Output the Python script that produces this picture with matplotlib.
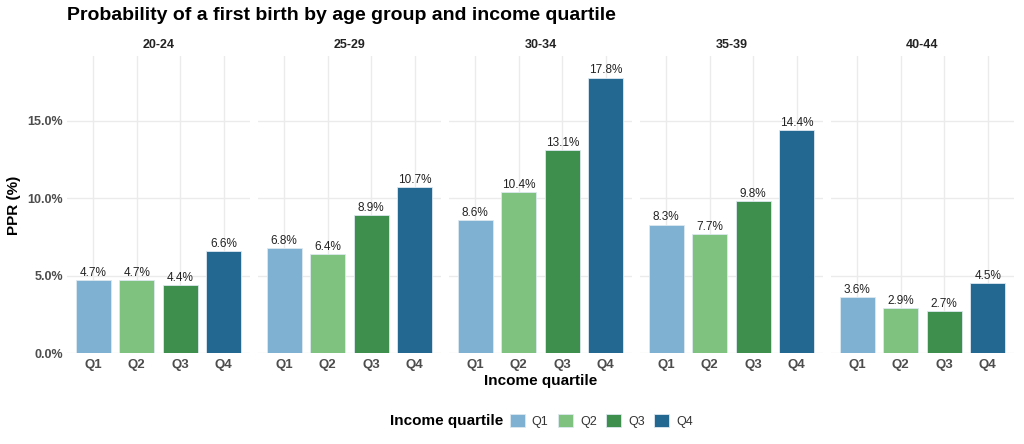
import matplotlib
matplotlib.use("Agg")
from matplotlib import pyplot as plt
from matplotlib.patches import Patch

plt.rcParams["font.family"] = ["Liberation Sans", "DejaVu Sans"]

age_groups = ["20-24", "25-29", "30-34", "35-39", "40-44"]
quartiles = ["Q1", "Q2", "Q3", "Q4"]
ppr = {
    "20-24": [4.7, 4.7, 4.4, 6.6],
    "25-29": [6.8, 6.4, 8.9, 10.7],
    "30-34": [8.6, 10.4, 13.1, 17.8],
    "35-39": [8.3, 7.7, 9.8, 14.4],
    "40-44": [3.6, 2.9, 2.7, 4.5],
}
colors = ["#7fb1d3", "#7fc17f", "#3e8f4e", "#226891"]
yticks = [0, 5, 10, 15]

W, H = 1024, 444
fig = plt.figure(figsize=(W / 100, H / 100), dpi=100)

left, pw, gap = 67, 183, 8
top, bottom = 56, 353
grid_c = "#ebebeb"
tick_c = "#4d4d4d"

for i, age in enumerate(age_groups):
    x0 = left + i * (pw + gap)
    ax = fig.add_axes([x0 / W, (H - bottom) / H, pw / W, (bottom - top) / H])
    vals = ppr[age]
    xs = range(len(quartiles))
    ax.bar(xs, vals, width=0.8, color=colors, edgecolor="#dde8f0", linewidth=0.6, zorder=2)
    for x, v in zip(xs, vals):
        ax.text(x, v + 0.08, f"{v:.1f}%", ha="center", va="bottom", fontsize=8.5, color="#222222", zorder=3)
    ax.set_xlim(-0.6, 3.6)
    ax.set_ylim(0, 19.2)
    ax.set_xticks(list(xs))
    ax.set_xticklabels(quartiles, fontsize=9.5, fontweight="bold", color=tick_c)
    ax.set_yticks(yticks)
    if i == 0:
        ax.set_yticklabels([f"{t:.1f}%" for t in yticks], fontsize=9, fontweight="bold", color=tick_c)
    else:
        ax.set_yticklabels([])
    ax.tick_params(axis="x", length=0, pad=4)
    ax.tick_params(axis="y", length=0, pad=3)
    ax.grid(True, color=grid_c, linewidth=1.0, zorder=0)
    ax.set_axisbelow(True)
    for s in ax.spines.values():
        s.set_visible(False)
    ax.set_title(age, fontsize=9, fontweight="bold", color="#222222", pad=6)

fig.text(67 / W, 1 - 15 / H, "Probability of a first birth by age group and income quartile",
         fontsize=14, fontweight="bold", ha="left", va="center")
fig.text(14 / W, 1 - 205 / H, "PPR (%)", rotation=90, fontsize=11, fontweight="bold",
         ha="center", va="center")
fig.text(540.5 / W, 1 - 381 / H, "Income quartile", fontsize=11, fontweight="bold",
         ha="center", va="center")

fig.text(390 / W, 1 - 421 / H, "Income quartile", fontsize=11, fontweight="bold",
         ha="left", va="center")
handles = [Patch(facecolor=c, edgecolor="#dde8f0", linewidth=0.6) for c in colors]
fig.legend(handles, quartiles, ncol=4, loc="center left", bbox_to_anchor=(510 / W, 1 - 421 / H),
           frameon=False, fontsize=9, handlelength=1.2, handleheight=1.2,
           handletextpad=0.55, columnspacing=0.76, borderaxespad=0, borderpad=0,
           labelcolor="#333333")

fig.savefig("out.png", dpi=100)
